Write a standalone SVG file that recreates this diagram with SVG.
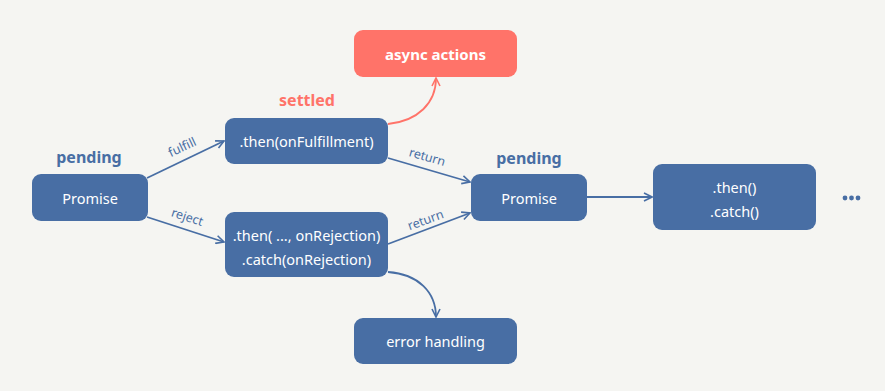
<svg xmlns="http://www.w3.org/2000/svg" width="885" height="391" viewBox="0 0 885 391">
<style>
.box{fill:#486ea4;}
.red{fill:#ff7369;}
.t{font-family:"Noto Sans","Liberation Sans",sans-serif;font-size:14.5px;fill:#ffffff;text-anchor:middle;dominant-baseline:central;}
.tb{font-family:"Noto Sans","Liberation Sans",sans-serif;font-size:15px;font-weight:bold;fill:#ffffff;text-anchor:middle;dominant-baseline:central;}
.state{font-family:"Noto Sans","Liberation Sans",sans-serif;font-size:16px;font-weight:bold;text-anchor:middle;}
.lbl{font-family:"Noto Sans","Liberation Sans",sans-serif;font-size:12.5px;fill:#486ea4;text-anchor:middle;}
.c{fill:none;stroke:#486ea4;stroke-width:1.8;}
.cr{fill:none;stroke:#ff7369;stroke-width:1.8;}
</style>
<defs>
<marker id="ab" viewBox="0 0 10 10" refX="9" refY="5" markerWidth="10" markerHeight="10" markerUnits="userSpaceOnUse" orient="auto">
<polyline points="1,1 9,5 1,9" fill="none" stroke="#486ea4" stroke-width="1.6"/>
</marker>
<marker id="ar" viewBox="0 0 10 10" refX="9" refY="5" markerWidth="10" markerHeight="10" markerUnits="userSpaceOnUse" orient="auto">
<polyline points="1,1 9,5 1,9" fill="none" stroke="#ff7369" stroke-width="1.6"/>
</marker>
</defs>
<rect width="885" height="391" fill="#f5f5f2"/>

<g id="connectors">
<line class="c" x1="147" y1="178" x2="224" y2="141" marker-end="url(#ab)"/>
<line class="c" x1="147" y1="217" x2="224" y2="242" marker-end="url(#ab)"/>
<line class="c" x1="388" y1="158" x2="470" y2="182" marker-end="url(#ab)"/>
<line class="c" x1="388" y1="244" x2="470" y2="213" marker-end="url(#ab)"/>
<line class="c" x1="587" y1="197" x2="652" y2="197" marker-end="url(#ab)"/>
<path class="cr" d="M388,124 C418,121 436,103 436,78" marker-end="url(#ar)"/>
<path class="c" d="M388,272 C418,274 436,292 436,317" marker-end="url(#ab)"/>
<text class="lbl" transform="translate(184,151) rotate(-25)">fulfill</text>
<text class="lbl" transform="translate(186,221) rotate(18)">reject</text>
<text class="lbl" transform="translate(426,161) rotate(16)">return</text>
<text class="lbl" transform="translate(427,224) rotate(-20)">return</text>
</g>

<g id="promise1">
<text class="state" x="89" y="163" fill="#486ea4">pending</text>
<rect class="box" x="32" y="174" width="116" height="47" rx="9"/>
<text class="t" x="90" y="197.5">Promise</text>
</g>

<g id="then-fulfill">
<text class="state" x="307" y="106" fill="#ff7369">settled</text>
<rect class="box" x="225" y="118" width="163" height="46" rx="9"/>
<text class="t" x="306.5" y="141">.then(onFulfillment)</text>
</g>

<g id="async-actions">
<rect class="red" x="354" y="30" width="163" height="47" rx="9"/>
<text class="tb" x="435.5" y="53.5">async actions</text>
</g>

<g id="then-reject">
<rect class="box" x="225" y="212" width="163" height="65" rx="9"/>
<text class="t" x="306.5" y="235">.then( ..., onRejection)</text>
<text class="t" x="306.5" y="259">.catch(onRejection)</text>
</g>

<g id="error-handling">
<rect class="box" x="354" y="318" width="163" height="46" rx="9"/>
<text class="t" x="435.5" y="341">error handling</text>
</g>

<g id="promise2">
<text class="state" x="529" y="164" fill="#486ea4">pending</text>
<rect class="box" x="471" y="174" width="116" height="47" rx="9"/>
<text class="t" x="529" y="197.5">Promise</text>
</g>

<g id="then-catch">
<rect class="box" x="653" y="164" width="163" height="66" rx="9"/>
<text class="t" x="734.5" y="187">.then()</text>
<text class="t" x="734.5" y="211">.catch()</text>
</g>

<g id="ellipsis">
<circle cx="845" cy="198" r="2.4" fill="#486ea4"/>
<circle cx="851.5" cy="198" r="2.4" fill="#486ea4"/>
<circle cx="858" cy="198" r="2.4" fill="#486ea4"/>
</g>
</svg>
